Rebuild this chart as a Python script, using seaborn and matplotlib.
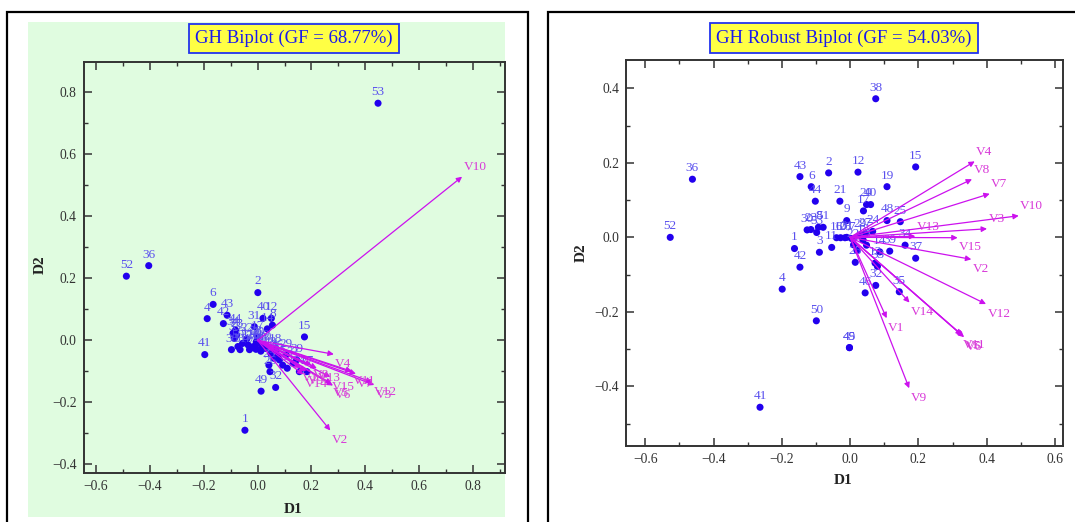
import numpy as np
import pandas as pd
import matplotlib
matplotlib.use("Agg")
import matplotlib.pyplot as plt
from matplotlib.patches import Rectangle
from matplotlib.ticker import MultipleLocator
import seaborn as sns

# --- GH Biplot (classical) ---
gh_ids = [1, 2, 3, 4, 5, 6, 7, 8, 9, 10, 11, 12, 13, 14, 15, 16, 17, 18, 19, 20,
          21, 22, 23, 24, 25, 26, 27, 28, 29, 30, 31, 32, 33, 34, 35, 36, 37, 38, 39, 40,
          41, 42, 43, 44, 45, 46, 47, 48, 49, 50, 51, 52, 53]
gh_d1 = [-0.047, 0.001, -0.056, -0.187, 0.061, -0.165, 0.093, 0.055, -0.006, 0.029,
         -0.035, 0.051, 0.081, 0.036, 0.174, 0.010, 0.000, 0.068, 0.020, 0.000,
         -0.022, -0.040, -0.078, 0.155, 0.042, 0.046, 0.183, -0.015, 0.106, -0.097,
         -0.012, 0.067, -0.086, -0.091, 0.110, -0.404, 0.132, -0.005, 0.145, 0.020,
         -0.196, -0.127, -0.113, -0.082, 0.012, 0.075, -0.030, 0.049, 0.013, -0.073,
         -0.065, -0.487, 0.447]
gh_d2 = [-0.290, 0.154, -0.010, 0.070, -0.058, 0.116, -0.080, 0.049, -0.029, -0.026,
         -0.015, 0.071, -0.063, 0.037, 0.011, -0.029, 0.010, -0.031, -0.020, -0.010,
         -0.023, 0.005, 0.017, -0.101, -0.080, -0.101, -0.101, -0.020, -0.047, -0.030,
         0.044, -0.152, 0.006, 0.023, -0.090, 0.241, -0.074, -0.005, -0.063, 0.071,
         -0.046, 0.054, 0.081, 0.033, -0.035, -0.050, -0.030, -0.042, -0.164, -0.020,
         -0.030, 0.207, 0.765]
gh_vars = ["V1", "V2", "V3", "V4", "V5", "V6", "V7", "V8", "V9", "V10",
           "V11", "V12", "V13", "V14", "V15"]
gh_v1 = [0.160, 0.270, 0.433, 0.283, 0.275, 0.280, 0.365, 0.200, 0.180, 0.759,
         0.350, 0.425, 0.220, 0.170, 0.270]
gh_v2 = [-0.090, -0.291, -0.144, -0.045, -0.140, -0.146, -0.108, -0.080, -0.100, 0.528,
         -0.100, -0.135, -0.090, -0.110, -0.118]

# --- GH Robust Biplot ---
rob_ids = gh_ids
rob_d1 = [-0.163, -0.063, -0.090, -0.199, 0.048, -0.114, 0.004, -0.093, -0.010, -0.028,
          -0.054, 0.023, 0.073, 0.087, 0.192, -0.040, 0.039, 0.038, 0.108, 0.048,
          -0.030, 0.010, -0.115, 0.066, 0.147, 0.015, 0.045, -0.015, 0.030, -0.126,
          -0.010, 0.075, 0.080, 0.161, 0.144, -0.462, 0.192, 0.075, 0.116, 0.060,
          -0.264, -0.147, -0.147, -0.102, -0.002, 0.044, 0.020, 0.108, -0.002, -0.099,
          -0.079, -0.527, -0.098]
rob_d2 = [-0.030, 0.173, -0.040, -0.139, -0.021, 0.136, -0.003, 0.027, 0.045, -0.001,
          -0.027, 0.175, -0.069, -0.039, 0.189, -0.001, 0.071, -0.007, 0.136, 0.088,
          0.097, -0.020, 0.021, 0.016, 0.042, -0.067, 0.010, -0.001, 0.005, 0.020,
          0.000, -0.129, -0.078, -0.021, -0.146, 0.156, -0.056, 0.372, -0.037, 0.088,
          -0.456, -0.080, 0.163, 0.097, -0.296, -0.149, -0.035, 0.045, -0.296, -0.224,
          0.027, 0.000, 0.013]
rob_v1 = [0.107, 0.355, 0.401, 0.365, 0.331, 0.334, 0.409, 0.357, 0.173, 0.494,
          0.327, 0.398, 0.191, 0.174, 0.315]
rob_v2 = [-0.217, -0.059, 0.023, 0.204, -0.265, -0.268, 0.117, 0.156, -0.405, 0.058,
          -0.262, -0.179, 0.003, -0.175, -0.001]

gh_pts = pd.DataFrame({"id": gh_ids, "D1": gh_d1, "D2": gh_d2})
rob_pts = pd.DataFrame({"id": rob_ids, "D1": rob_d1, "D2": rob_d2})
gh_arr = pd.DataFrame({"var": gh_vars, "D1": gh_v1, "D2": gh_v2})
rob_arr = pd.DataFrame({"var": gh_vars, "D1": rob_v1, "D2": rob_v2})

sns.set_theme(style="ticks")
plt.rcParams["font.family"] = ["Liberation Serif", "DejaVu Serif"]
plt.rcParams["axes.unicode_minus"] = True

PT_COL = "#2200ee"
PT_LAB = "#5a50ee"
AR_COL = "#cc11ee"
AR_LAB = "#d838d8"

fig = plt.figure(figsize=(10.75, 5.22), dpi=100)
fig.patch.set_facecolor("white")

W, H = 1075, 522
def fx(px):
    return px / W
def fy(py):
    return 1 - py / H

# green background of the left panel and the two black frames
fig.patches.append(Rectangle((fx(27.6), fy(517)), fx(505) - fx(27.6), fy(22) - fy(517),
                             transform=fig.transFigure, figure=fig,
                             facecolor="#e0fce0", edgecolor="none", zorder=-5))
fig.patches.append(Rectangle((fx(7.2), -0.02), fx(527.6) - fx(7.2), fy(12) + 0.02,
                             transform=fig.transFigure, figure=fig,
                             facecolor="none", edgecolor="black", lw=1.6, zorder=-4))
fig.patches.append(Rectangle((fx(547.7), -0.02), 0.6, fy(12) + 0.02,
                             transform=fig.transFigure, figure=fig,
                             facecolor="none", edgecolor="black", lw=1.6, zorder=-4))


def draw_panel(rect, pts, arr, xlim, ylim, xticks, yticks, title, title_xy, green):
    ax = fig.add_axes(rect)
    ax.set_zorder(2)
    ax.set_facecolor("none" if green else "white")
    sns.scatterplot(data=pts, x="D1", y="D2", ax=ax, color=PT_COL, s=26,
                    edgecolor="none", zorder=3, legend=False)
    for i, d1, d2 in zip(pts["id"], pts["D1"], pts["D2"]):
        ax.annotate(str(int(i)), (d1, d2), xytext=(0, 8),
                    textcoords="offset points", ha="center", va="center",
                    fontsize=9.5, color=PT_LAB, zorder=4)
    for name, d1, d2 in zip(arr["var"], arr["D1"], arr["D2"]):
        ax.annotate("", xy=(d1, d2), xytext=(0, 0),
                    arrowprops=dict(arrowstyle="-|>", color=AR_COL, lw=0.9,
                                    mutation_scale=8, shrinkA=0, shrinkB=0),
                    zorder=5)
        dy = 7 if d2 > 0 else -7
        ax.annotate(name, (d1, d2), xytext=(1, dy),
                    textcoords="offset points", ha="left", va="center",
                    fontsize=9.5, color=AR_LAB, zorder=6)
    ax.set_xlim(*xlim)
    ax.set_ylim(*ylim)
    ax.set_xticks(xticks)
    ax.set_yticks(yticks)
    ax.xaxis.set_minor_locator(MultipleLocator(0.1))
    ax.yaxis.set_minor_locator(MultipleLocator(0.1))
    ax.set_xticklabels([f"{v:.1f}".replace("-", "\u2212") for v in xticks])
    ax.set_yticklabels([f"{v:.1f}".replace("-", "\u2212") for v in yticks])
    ax.tick_params(which="both", direction="in", top=True, right=True,
                   colors="#333333", labelcolor="#333333", labelsize=9.8, pad=5)
    ax.tick_params(which="major", length=6, width=1.1)
    ax.tick_params(which="minor", length=3, width=1.0)
    for sp in ax.spines.values():
        sp.set_visible(True)
        sp.set_color("#333333")
        sp.set_linewidth(1.4)
    ax.set_xlabel("D1", fontsize=11, fontweight="bold", color="#222222")
    ax.set_ylabel("D2", fontsize=11, fontweight="bold", color="#222222")
    fig.text(title_xy[0], title_xy[1], title, ha="center", va="center",
             fontsize=13.5, color="#1a1aee",
             bbox=dict(boxstyle="square,pad=0.33", facecolor="#ffff44",
                       edgecolor="#2233ee", lw=1.3))
    return ax


ax1 = draw_panel([fx(83.8), fy(473), fx(505.2) - fx(83.8), fy(62) - fy(473)],
                 gh_pts, gh_arr, (-0.645, 0.919), (-0.428, 0.898),
                 np.round(np.arange(-0.6, 0.81, 0.2), 1), np.round(np.arange(-0.4, 0.81, 0.2), 1),
                 "GH Biplot (GF = 68.77%)", (fx(294), fy(38.5)), True)
ax1.xaxis.set_label_coords(0.4965, -0.074)
ax1.yaxis.set_label_coords(-0.087, 0.506)

ax2 = draw_panel([fx(626.2), fy(446), fx(1062.8) - fx(626.2), fy(60) - fy(446)],
                 rob_pts, rob_arr, (-0.656, 0.623), (-0.560, 0.476),
                 np.round(np.arange(-0.6, 0.61, 0.2), 1), np.round(np.arange(-0.4, 0.41, 0.2), 1),
                 "GH Robust Biplot (GF = 54.03%)", (fx(844), fy(38)), False)
ax2.xaxis.set_label_coords(0.4966, -0.073)
ax2.yaxis.set_label_coords(-0.087, 0.5)

fig.savefig("out.png", dpi=100)
